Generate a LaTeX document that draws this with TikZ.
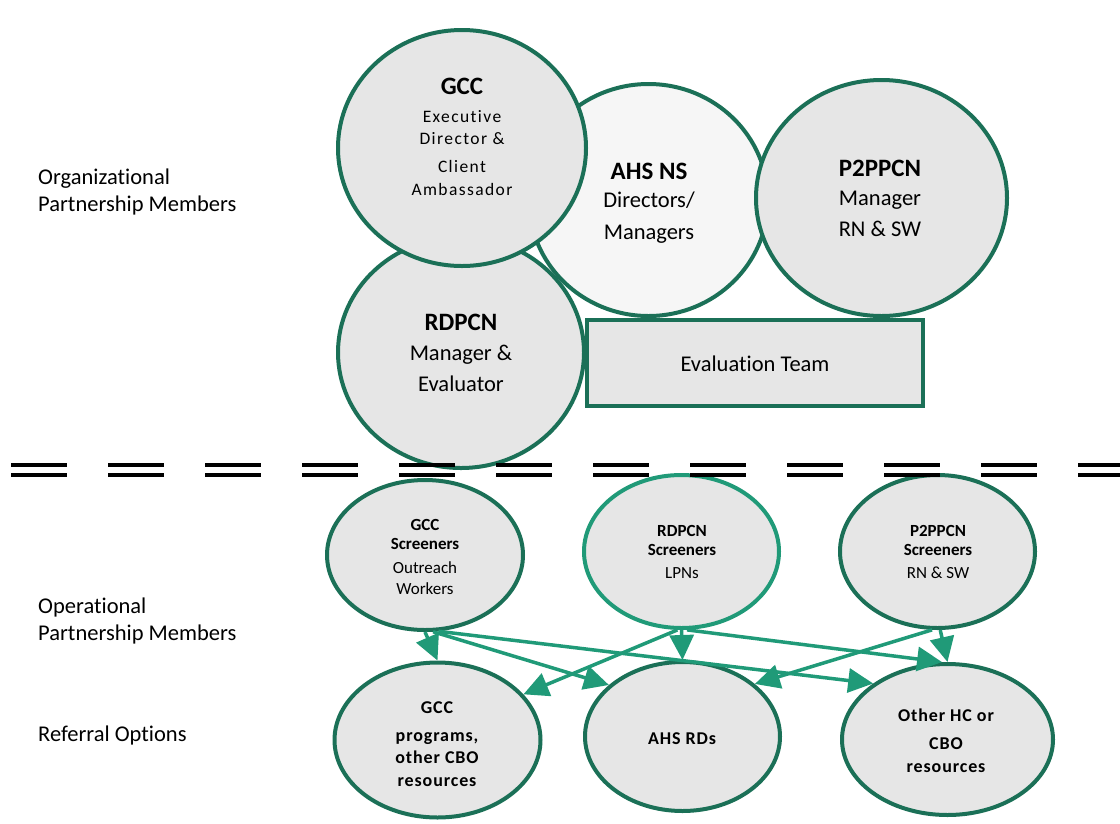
\documentclass[tikz,border=0pt]{standalone}
\usepackage{fontspec}
\setmainfont[Ligatures=NoCommon]{Carlito}
\newfontfamily\spacedfont[LetterSpace=8,Ligatures=NoCommon]{Carlito}
\newfontfamily\reffont[LetterSpace=5,Ligatures=NoCommon]{Carlito}
\usetikzlibrary{arrows.meta,shapes.geometric}
\definecolor{dkgreen}{RGB}{27,112,87}
\definecolor{ltgreen}{RGB}{32,154,120}
\definecolor{cgray}{RGB}{230,230,230}
\definecolor{cpale}{RGB}{246,246,246}
\tikzset{
  orgc/.style={ellipse, draw=dkgreen, line width=4pt, fill=cgray, inner sep=0pt},
  txt/.style={anchor=mid, inner sep=0pt},
  side/.style={anchor=west, align=left, inner sep=0pt, font=\fontsize{22.5}{27}\selectfont},
  big/.style={font=\fontsize{25}{30}\selectfont\bfseries},
  mid23/.style={font=\fontsize{22.5}{27}\selectfont},
  gccd/.style={font=\fontsize{17.5}{21}\selectfont\spacedfont},
  scrb/.style={font=\fontsize{17}{20}\selectfont\bfseries},
  scrn/.style={font=\fontsize{17}{20}\selectfont},
  refb/.style={font=\fontsize{18}{21}\selectfont\reffont\bfseries},
  link/.style={draw=ltgreen, line width=3.5pt, -{Triangle[length=25pt,width=24pt]}},
  sep/.style={line width=4.5pt, black, dash pattern=on 56pt off 41pt}
}
\begin{document}
\begin{tikzpicture}[x=1pt,y=-1pt]
\useasboundingbox (0,0) rectangle (1120,823);
% organizational members
\node[orgc, fill=cpale, minimum width=239pt, minimum height=232pt] (ahs) at (648.5,200) {};
\node[orgc, minimum width=246pt, minimum height=231pt] (rd) at (461,352.5) {};
\node[orgc, minimum width=248pt, minimum height=236pt] (gcc) at (462,148) {};
\node[orgc, minimum width=251pt, minimum height=236pt] (p2) at (881.5,198) {};
\node[draw=dkgreen, line width=4pt, fill=cgray, minimum width=336pt, minimum height=86pt, inner sep=0pt] (ev) at (755,363) {};
\node[txt, mid23] (evT) at (755,369) {Evaluation Team};
% texts
\node[txt, big] (gccT1) at (462,92) {GCC};
\node[txt, gccd] (gccT2) at (462,120) {Executive};
\node[txt, gccd] (gccT3) at (462,142) {Director \&};
\node[txt, gccd] (gccT4) at (462,170) {Client};
\node[txt, gccd] (gccT5) at (462,193) {Ambassador};
\node[txt, big] (ahsT1) at (649,177) {AHS NS};
\node[txt, mid23] (ahsT2) at (649,205) {Directors/};
\node[txt, mid23] (ahsT3) at (649,237) {Managers};
\node[txt, big] (p2T1) at (880,174) {P2PPCN};
\node[txt, mid23] (p2T2) at (880,203) {Manager};
\node[txt, mid23] (p2T3) at (880,234) {RN \& SW};
\node[txt, big] (rdT1) at (461,328) {RDPCN};
\node[txt, mid23] (rdT2) at (461,358) {Manager \&};
\node[txt, mid23] (rdT3) at (461,389) {Evaluator};
% side labels
\node[side] (l1) at (38,191.5) {Organizational\\Partnership Members};
\node[side] (l2) at (38,620.5) {Operational\\Partnership Members};
\node[side] (l3) at (38,735) {Referral Options};
% screeners
\node[orgc, minimum width=196pt, minimum height=150pt] (gs) at (425,555) {};
\node[orgc, draw=ltgreen, minimum width=195pt, minimum height=153pt] (rs) at (681.5,551.5) {};
\node[orgc, minimum width=195pt, minimum height=153pt] (ps) at (937.5,551.5) {};
\node[txt, scrb] (gsT1) at (425,528) {GCC};
\node[txt, scrb] (gsT2) at (425,547) {Screeners};
\node[txt, scrn] (gsT3) at (425,571) {Outreach};
\node[txt, scrn] (gsT4) at (425,592) {Workers};
\node[txt, scrb] (rsT1) at (682,534) {RDPCN};
\node[txt, scrb] (rsT2) at (682,553) {Screeners};
\node[txt, scrn] (rsT3) at (682,576) {LPNs};
\node[txt, scrb] (psT1) at (938,534) {P2PPCN};
\node[txt, scrb] (psT2) at (938,553) {Screeners};
\node[txt, scrn] (psT3) at (938,576) {RN \& SW};
% referral options
\node[orgc, minimum width=206pt, minimum height=155pt] (gp) at (437.5,740) {};
\node[orgc, minimum width=195pt, minimum height=149pt] (ar) at (682.5,736.5) {};
\node[orgc, minimum width=211pt, minimum height=151pt] (oh) at (947.5,739.5) {};
\node[txt, refb] (gpT1) at (437,711) {GCC};
\node[txt, refb] (gpT2) at (437,739) {programs,};
\node[txt, refb] (gpT3) at (437,761) {other CBO};
\node[txt, refb] (gpT4) at (437,784) {resources};
\node[txt, refb] (arT1) at (682,742) {AHS RDs};
\node[txt, refb] (ohT1) at (946,719) {Other HC or};
\node[txt, refb] (ohT2) at (946,747) {CBO};
\node[txt, refb] (ohT3) at (946,770) {resources};
% arrows
\draw[link] (gs.-90) -- (gp.90);
\draw[link] (gs.-84) -- (ar.145);
\draw[link] (gs.-80) -- (oh.143);
\draw[link] (rs.-93) -- (gp.28);
\draw[link] (rs.-90) -- (ar.90);
\draw[link] (rs.-86) -- (oh.94);
\draw[link] (ps.-94) -- (ar.36);
\draw[link] (ps.-88) -- (oh.90);
% separator
\draw[sep] (11,465) -- (1120,465);
\draw[sep] (11,475) -- (1120,475);
\end{tikzpicture}
\end{document}
